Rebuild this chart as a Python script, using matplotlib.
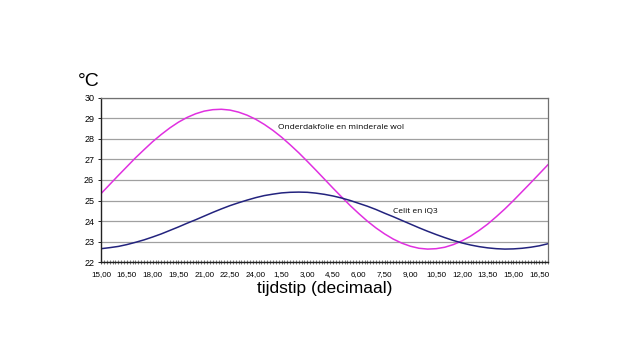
#!/usr/bin/env python
import numpy as np
from matplotlib import pyplot as plt
from matplotlib.ticker import MultipleLocator

plt.rcParams['font.family'] = ['Liberation Sans', 'DejaVu Sans']

# hours since start, every half hour (15,00 day 1 -> 17,00 day 2)
hours = np.arange(15, 41.5, 0.5)

# Onderdakfolie en minderale wol
folie = [25.34, 25.78, 26.22, 26.65, 27.08, 27.48, 27.87, 28.22, 28.54, 28.82,
         29.05, 29.23, 29.36, 29.43, 29.45, 29.41, 29.31, 29.16, 28.96, 28.71,
         28.42, 28.09, 27.72, 27.33, 26.91, 26.48, 26.04, 25.60, 25.17, 24.75,
         24.36, 23.99, 23.66, 23.37, 23.12, 22.92, 22.77, 22.67, 22.63, 22.65,
         22.72, 22.85, 23.03, 23.26, 23.54, 23.85, 24.21, 24.59, 25.00, 25.43,
         25.86, 26.30, 26.74]

# Celit en iQ3
celit = [22.65, 22.70, 22.76, 22.85, 22.96, 23.08, 23.22, 23.37, 23.54, 23.71,
         23.89, 24.06, 24.24, 24.42, 24.59, 24.75, 24.89, 25.02, 25.14, 25.24,
         25.31, 25.37, 25.40, 25.41, 25.40, 25.36, 25.30, 25.22, 25.12, 25.00,
         24.86, 24.72, 24.56, 24.38, 24.21, 24.03, 23.85, 23.67, 23.50, 23.34,
         23.19, 23.05, 22.93, 22.83, 22.75, 22.69, 22.65, 22.63, 22.64, 22.67,
         22.72, 22.79, 22.89]

tick_labels = ["15,00", "16,50", "18,00", "19,50", "21,00", "22,50", "24,00",
               "1,50", "3,00", "4,50", "6,00", "7,50", "9,00", "10,50",
               "12,00", "13,50", "15,00", "16,50"]

fig = plt.figure(figsize=(6.4, 3.6), dpi=100)
ax = fig.add_axes([0.158, 0.2722, 0.698, 0.4556])

ax.plot(hours, folie, color='#e030e0', lw=1.1)
ax.plot(hours, celit, color='#23237e', lw=1.1)

ax.set_xlim(15, 41)
ax.set_ylim(22, 30)

ax.set_xticks([15 + 1.5 * i for i in range(len(tick_labels))])
ax.set_xticklabels(tick_labels)
ax.xaxis.set_minor_locator(MultipleLocator(1 / 6))
ax.tick_params(axis='x', which='major', direction='inout', length=3, width=0.5,
               labelsize=5.8, pad=5, color='#333333')
ax.tick_params(axis='x', which='minor', direction='inout', length=3, width=0.5,
               color='#444444')

ax.set_yticks(range(22, 31))
ax.tick_params(axis='y', direction='out', length=2, width=0.6, labelsize=6.5, pad=3)

ax.grid(axis='y', color='#a0a0a0', lw=0.9)
ax.set_axisbelow(True)
for side in ['top', 'right']:
    ax.spines[side].set_color('#707070')
    ax.spines[side].set_linewidth(0.9)
for side in ['left', 'bottom']:
    ax.spines[side].set_color('#222222')
    ax.spines[side].set_linewidth(1.0)

ax.text(28.95, 28.55, "Onderdakfolie en minderale wol", fontsize=6,
        ha='center', va='center', family=['Open Sans', 'DejaVu Sans'])
ax.text(33.3, 24.45, "Celit en iQ3", fontsize=6,
        ha='center', va='center', family=['Open Sans', 'DejaVu Sans'])

fig.text(0.138, 0.775, "°C", fontsize=14, ha='center', va='center')
ax.set_xlabel("tijdstip (decimaal)", fontsize=12.5, labelpad=2)

fig.savefig("out.png", dpi=100)
